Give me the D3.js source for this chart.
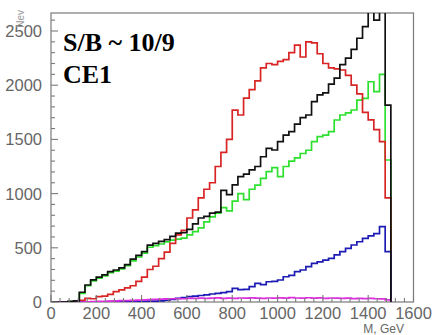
<!DOCTYPE html>
<html><head><meta charset="utf-8">
<script src="https://cdn.jsdelivr.net/npm/d3@7"></script>
<style>
html,body{margin:0;padding:0;background:#fff;}
svg{display:block;}
</style></head>
<body>
<script>
// ---- data ----
const binWidth = 25;            // GeV
const binStarts = d3.range(0, 1500, binWidth); // 60 bins, 0..1500 GeV
const seriesBlack = [0,0,0,5,10,90,157,205,230,250,280,295,315,345,395,430,465,525,540,560,
  575,605,635,640,670,720,775,790,820,830,1030,990,1080,1156,1180,1218,1250,1340,1418,1402,
  1480,1540,1571,1640,1700,1725,1848,1910,1930,2010,2066,2190,2250,2330,2433,2540,2800,2600,2900,1817];
const seriesRed = [0,0,0,2,5,15,34,30,49,55,70,95,111,130,150,190,230,300,330,400,
  460,540,620,660,775,850,960,1040,1100,1250,1380,1500,1770,1725,1880,1960,2040,2160,2200,2190,
  2220,2235,2300,2370,2260,2400,2390,2290,2200,2160,2150,2140,2090,2000,1920,1750,1680,1590,1480,960];
const seriesGreen = [0,0,0,3,8,80,150,195,220,240,270,285,305,335,380,415,450,505,520,535,
  555,570,580,590,620,650,683,740,786,820,870,840,930,1000,945,1040,1079,1141,1202,1240,
  1156,1250,1300,1330,1370,1400,1479,1525,1540,1571,1679,1725,1745,1771,1863,1878,2032,1940,2100,1310];
const seriesBlue = [0,0,0,0,0,0,0,0,0,2,3,4,5,5,6,6,7,8,8,10,
  18,25,34,40,50,55,60,65,74,80,86,95,126,115,117,141,172,160,187,190,
  203,233,245,280,295,326,357,370,387,403,434,464,495,526,556,587,610,630,695,464];
const seriesMagenta = [0,0,0,0,0,0,2,3,5,6,8,10,12,14,15,18,20,22,24,26,
  28,30,32,30,34,33,36,34,35,38,34,36,33,37,35,38,36,34,37,35,
  38,36,40,37,35,39,36,38,34,37,36,33,35,32,34,31,33,30,28,20];
const xTicks = [0,200,400,600,800,1000,1200,1400,1600];
const yTicks = [0,500,1000,1500,2000,2500];
const seriesList = [
  {name:"green", values: seriesGreen, color:"#2ee02e"},
  {name:"red", values: seriesRed, color:"#d82424"},
  {name:"blue", values: seriesBlue, color:"#1c1cb4"},
  {name:"magenta", values: seriesMagenta, color:"#dd2ee0"},
  {name:"black", values: seriesBlack, color:"#111111"}
];

// ---- layout ----
const W = 436, H = 335;
const L = 51, R = 413.5, T = 13, B = 302;
const x = d3.scaleLinear().domain([0,1600]).range([L,R]);
const y = d3.scaleLinear().domain([0,2666]).range([B,T]);

const svg = d3.select("body").append("svg").attr("width",W).attr("height",H);

svg.append("defs").append("clipPath").attr("id","clip")
  .append("rect").attr("x",L).attr("y",T).attr("width",R-L).attr("height",B-T);

const axisColor = "#7a7a7a";
const textColor = "#666";

// frame
svg.append("rect").attr("x",L).attr("y",T).attr("width",R-L).attr("height",B-T)
  .attr("fill","none").attr("stroke",axisColor).attr("stroke-width",1.2);

// histograms
const g = svg.append("g").attr("clip-path","url(#clip)");
seriesList.forEach(s=>{
  const pts = [[x(0), y(0)]];
  s.values.forEach((v,i)=>{
    const x0 = x(binStarts[i]), x1 = x(binStarts[i]+binWidth);
    pts.push([x0, y(v)]); pts.push([x1, y(v)]);
  });
  pts.push([x(binStarts[binStarts.length-1]+binWidth), y(0)]);
  g.append("path").attr("d", d3.line()(pts))
    .attr("fill","none").attr("stroke",s.color).attr("stroke-width",1.7)
    .attr("stroke-linejoin","miter");
});

// y axis ticks (inward)
const yMinor = d3.range(0, 2667, 100);
svg.append("g").selectAll("line").data(yMinor).join("line")
  .attr("x1",L).attr("x2",d=> d%500===0 ? L+7 : L+4)
  .attr("y1",d=>y(d)).attr("y2",d=>y(d))
  .attr("stroke",axisColor).attr("stroke-width",1.1);
svg.append("g").selectAll("text").data(yTicks).join("text")
  .attr("x",L-9).attr("y",d=>y(d)).attr("dy","0.36em")
  .attr("text-anchor","end").attr("fill",textColor)
  .attr("font-family","Liberation Sans, Arial, sans-serif").attr("font-size",16.5)
  .text(d=>d);

// x axis ticks (inward)
const xMinor = d3.range(0, 1601, 40);
svg.append("g").selectAll("line").data(xMinor).join("line")
  .attr("x1",d=>x(d)).attr("x2",d=>x(d))
  .attr("y1",B).attr("y2",d=> d%200===0 ? B-7 : B-4)
  .attr("stroke",axisColor).attr("stroke-width",1.1);
svg.append("g").selectAll("text").data(xTicks).join("text")
  .attr("x",d=>x(d)).attr("y",318.5)
  .attr("text-anchor","middle").attr("fill",textColor)
  .attr("font-family","Liberation Sans, Arial, sans-serif").attr("font-size",16.5)
  .text(d=>d);

// axis titles
svg.append("text").attr("x",404).attr("y",333).attr("text-anchor","end")
  .attr("fill",textColor).attr("font-family","Liberation Sans, Arial, sans-serif")
  .attr("font-size",12).text("M, GeV");
svg.append("text").attr("transform","translate(24,10) rotate(-90)")
  .attr("text-anchor","end").attr("fill","#999")
  .attr("font-family","Liberation Sans, Arial, sans-serif")
  .attr("font-size",10).text("Nev");

// annotation
svg.append("text").attr("x",63).attr("y",51).attr("fill","#000")
  .attr("font-family","Liberation Serif, Times New Roman, serif").attr("font-weight","bold")
  .attr("font-size",26).text("S/B ~ 10/9");
svg.append("text").attr("x",63).attr("y",83).attr("fill","#000")
  .attr("font-family","Liberation Serif, Times New Roman, serif").attr("font-weight","bold")
  .attr("font-size",26).text("CE1");
</script>
</body></html>
